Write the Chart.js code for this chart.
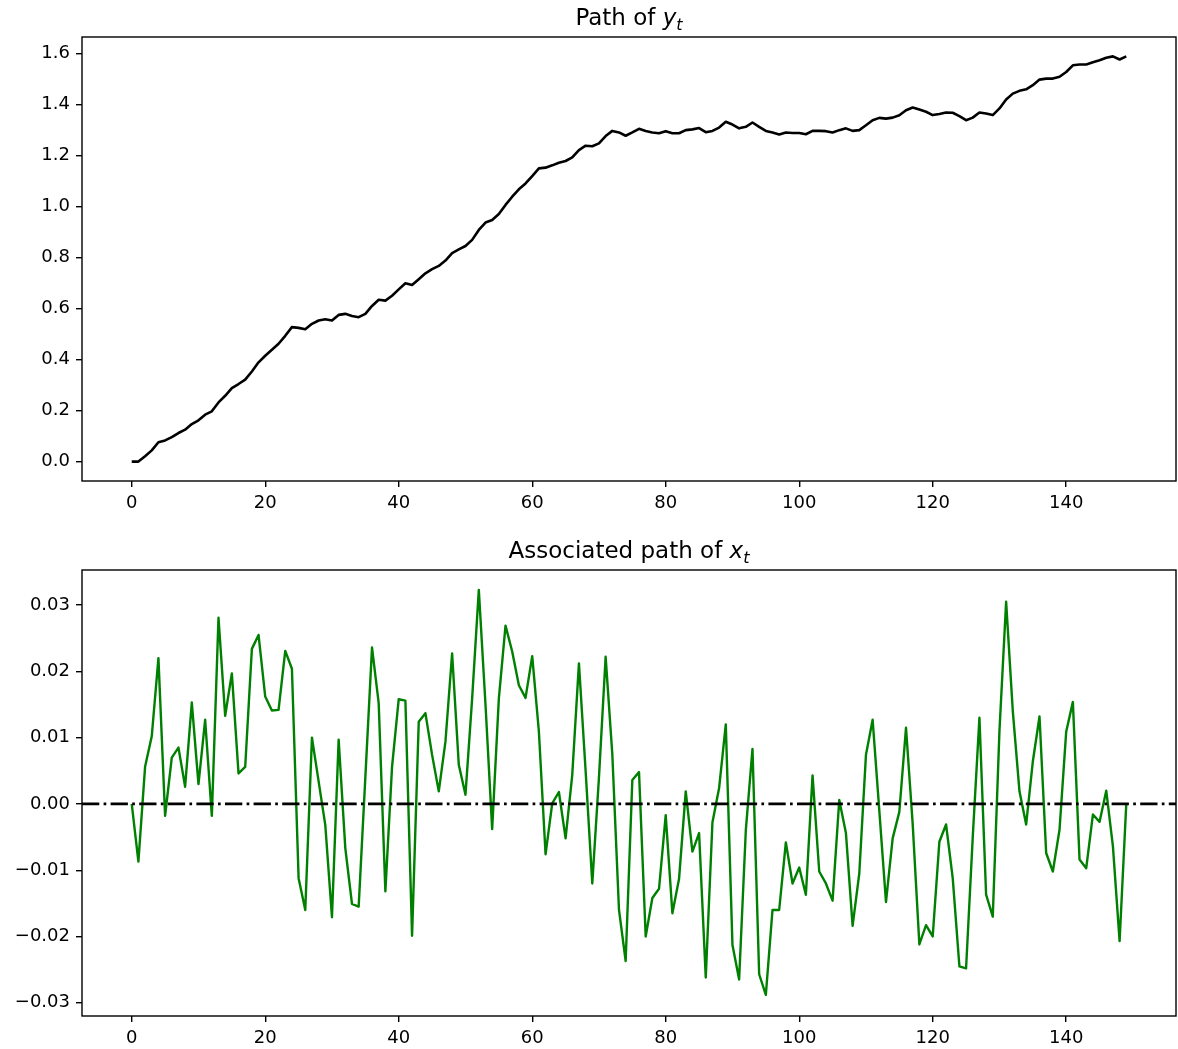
<!DOCTYPE html>
<html>
<head>
<meta charset="utf-8">
<script src="https://cdn.jsdelivr.net/npm/chart.js@4.4.1/dist/chart.umd.min.js"></script>
<style>
  html, body { margin: 0; padding: 0; background: #fff; }
  #wrap { position: relative; width: 1178px; height: 1049px; background: #fff; }
  canvas { position: absolute; left: 0; }
</style>
</head>
<body>
<div id="wrap">
  <canvas id="c1" width="1178" height="525" style="top:0px"></canvas>
  <canvas id="c2" width="1178" height="524" style="top:525px"></canvas>
</div>
<script>
// ---------------- data ----------------
const yPath = [
  0.000, 0.000, 0.021, 0.044, 0.076, 0.083, 0.096, 0.112, 0.125, 0.147,
  0.162, 0.184, 0.197, 0.232, 0.258, 0.288, 0.304, 0.321, 0.353, 0.389,
  0.415, 0.438, 0.462, 0.493, 0.527, 0.524, 0.519, 0.540, 0.553, 0.558,
  0.553, 0.575, 0.579, 0.571, 0.566, 0.579, 0.610, 0.634, 0.631, 0.650,
  0.675, 0.699, 0.692, 0.715, 0.738, 0.754, 0.767, 0.788, 0.817, 0.832,
  0.845, 0.869, 0.908, 0.937, 0.947, 0.970, 1.006, 1.038, 1.067, 1.090,
  1.119, 1.149, 1.152, 1.161, 1.171, 1.178, 1.192, 1.221, 1.238, 1.236,
  1.247, 1.276, 1.296, 1.290, 1.277, 1.290, 1.304, 1.296, 1.290, 1.287,
  1.295, 1.287, 1.287, 1.299, 1.302, 1.307, 1.291, 1.296, 1.309, 1.332,
  1.321, 1.306, 1.312, 1.329, 1.312, 1.296, 1.290, 1.282, 1.290, 1.288,
  1.288, 1.283, 1.296, 1.296, 1.295, 1.290, 1.299, 1.306, 1.296, 1.299,
  1.318, 1.338, 1.347, 1.344, 1.348, 1.357, 1.377, 1.388, 1.380, 1.371,
  1.358, 1.362, 1.368, 1.367, 1.354, 1.338, 1.348, 1.368, 1.364, 1.358,
  1.384, 1.419, 1.442, 1.453, 1.459, 1.475, 1.497, 1.501, 1.501, 1.508,
  1.527, 1.553, 1.556, 1.556, 1.565, 1.573, 1.583, 1.588, 1.576, 1.588
];

const xPath = [
  0.0000, -0.0087, 0.0056, 0.0102, 0.0220, -0.0018, 0.0070, 0.0085, 0.0026, 0.0153,
  0.0030, 0.0127, -0.0018, 0.0281, 0.0133, 0.0197, 0.0046, 0.0056, 0.0234, 0.0255,
  0.0162, 0.0141, 0.0142, 0.0231, 0.0204, -0.0112, -0.0160, 0.0100, 0.0034, -0.0032,
  -0.0171, 0.0097, -0.0067, -0.0151, -0.0155, 0.0040, 0.0236, 0.0152, -0.0132, 0.0056,
  0.0158, 0.0156, -0.0199, 0.0124, 0.0137, 0.0074, 0.0019, 0.0094, 0.0227, 0.0059,
  0.0014, 0.0159, 0.0323, 0.0150, -0.0038, 0.0159, 0.0269, 0.0230, 0.0179, 0.0160,
  0.0223, 0.0109, -0.0076, 0.0001, 0.0018, -0.0052, 0.0044, 0.0212, 0.0050, -0.0120,
  0.0040, 0.0222, 0.0075, -0.0160, -0.0237, 0.0036, 0.0048, -0.0200, -0.0142, -0.0128,
  -0.0017, -0.0165, -0.0113, 0.0019, -0.0072, -0.0044, -0.0262, -0.0028, 0.0024, 0.0120,
  -0.0213, -0.0265, -0.0040, 0.0083, -0.0257, -0.0288, -0.0160, -0.0160, -0.0058, -0.0120,
  -0.0096, -0.0137, 0.0043, -0.0102, -0.0120, -0.0146, 0.0006, -0.0044, -0.0184, -0.0105,
  0.0074, 0.0127, -0.0010, -0.0148, -0.0052, -0.0012, 0.0115, -0.0030, -0.0212, -0.0183,
  -0.0200, -0.0057, -0.0031, -0.0112, -0.0245, -0.0248, -0.0050, 0.0130, -0.0137, -0.0170,
  0.0110, 0.0305, 0.0140, 0.0019, -0.0031, 0.0064, 0.0132, -0.0074, -0.0102, -0.0039,
  0.0109, 0.0154, -0.0084, -0.0097, -0.0016, -0.0027, 0.0020, -0.0064, -0.0207, 0.0000
];

const steps = yPath.map((_, i) => i);

const xTicks = [0, 20, 40, 60, 80, 100, 120, 140];
const xTickLabels = ['0', '20', '40', '60', '80', '100', '120', '140'];

const topYTicks = [0.0, 0.2, 0.4, 0.6, 0.8, 1.0, 1.2, 1.4, 1.6];
const topYTickLabels = ['0.0', '0.2', '0.4', '0.6', '0.8', '1.0', '1.2', '1.4', '1.6'];

const botYTicks = [-0.03, -0.02, -0.01, 0.00, 0.01, 0.02, 0.03];
const botYTickLabels = ['\u22120.03', '\u22120.02', '\u22120.01', '0.00', '0.01', '0.02', '0.03'];

const zeroLevel = 0;

// ---------------- style ----------------
const FONT = 'DejaVu Sans';
const TICK_PX = 18;
const TITLE_PX = 23;

function titleParts(prefix, sym) {
  return [
    { text: prefix, font: `${TITLE_PX}px "${FONT}"`, dy: 0 },
    { text: sym, font: `italic ${TITLE_PX}px "${FONT}"`, dy: 0 },
    { text: 't', font: `italic ${Math.round(TITLE_PX * 0.7)}px "${FONT}"`, dy: 5 }
  ];
}

function drawTitle(ctx, parts, cx, baseline) {
  ctx.save();
  ctx.fillStyle = '#000';
  ctx.textBaseline = 'alphabetic';
  ctx.textAlign = 'left';
  let total = 0;
  const widths = parts.map(p => { ctx.font = p.font; const w = ctx.measureText(p.text).width; total += w; return w; });
  let x = cx - total / 2;
  parts.forEach((p, i) => {
    ctx.font = p.font;
    ctx.fillText(p.text, x, baseline + p.dy);
    x += widths[i];
  });
  ctx.restore();
}

const framePlugin = {
  id: 'frame',
  afterDatasetsDraw(chart, args, opts) {
    const ctx = chart.ctx;
    const a = chart.chartArea;
    if (opts.zeroLine) {
      const y = chart.scales.y.getPixelForValue(zeroLevel);
      ctx.save();
      ctx.beginPath();
      ctx.rect(a.left, a.top, a.right - a.left, a.bottom - a.top);
      ctx.clip();
      ctx.strokeStyle = '#000';
      ctx.lineWidth = 2.7;
      ctx.setLineDash([17.3, 4.3, 2.7, 4.3]);
      ctx.beginPath();
      ctx.moveTo(a.left, y);
      ctx.lineTo(a.right, y);
      ctx.stroke();
      ctx.restore();
    }
  },
  afterDraw(chart, args, opts) {
    const ctx = chart.ctx;
    const a = chart.chartArea;
    ctx.save();
    ctx.strokeStyle = '#000';
    ctx.lineWidth = 1.4;
    ctx.strokeRect(a.left, a.top, a.right - a.left, a.bottom - a.top);
    ctx.restore();
    drawTitle(ctx, opts.title, (a.left + a.right) / 2, a.top - opts.titleGap);
  }
};

function makeChart(id, values, color, lw, yMin, yMax, yTicks, yLabels, pad, xAxisH, title, zeroLine) {
  const ctx = document.getElementById(id);
  return new Chart(ctx, {
    type: 'line',
    data: {
      datasets: [{
        data: values.map((v, i) => ({ x: steps[i], y: v })),
        borderColor: color,
        borderWidth: lw,
        pointRadius: 0,
        tension: 0,
        fill: false,
        borderJoinStyle: 'round',
        borderCapStyle: 'butt'
      }]
    },
    options: {
      responsive: false,
      animation: false,
      devicePixelRatio: 1,
      layout: { padding: pad },
      plugins: {
        legend: { display: false },
        tooltip: { enabled: false },
        frame: { title: title, titleGap: 12, zeroLine: zeroLine }
      },
      scales: {
        x: {
          type: 'linear',
          min: -7.45,
          max: 156.45,
          afterBuildTicks: s => { s.ticks = xTicks.map(v => ({ value: v })); },
          afterFit: s => { s.height = xAxisH; },
          ticks: {
            color: '#000',
            font: { family: FONT, size: TICK_PX },
            padding: 6,
            maxRotation: 0,
            autoSkip: false,
            callback: v => { const k = xTicks.indexOf(v); return k >= 0 ? xTickLabels[k] : ''; }
          },
          grid: { display: true, drawOnChartArea: false, drawTicks: true, tickLength: 6, color: '#000', lineWidth: 1.4 },
          border: { display: false }
        },
        y: {
          type: 'linear',
          min: yMin,
          max: yMax,
          afterBuildTicks: s => { s.ticks = yTicks.map(v => ({ value: v })); },
          afterFit: s => { s.width = 82; },
          ticks: {
            color: '#000',
            font: { family: FONT, size: TICK_PX },
            padding: 6,
            autoSkip: false,
            callback: v => {
              let k = -1;
              yTicks.forEach((t, j) => { if (Math.abs(t - v) < 1e-9) k = j; });
              return k >= 0 ? yLabels[k] : '';
            }
          },
          grid: { display: true, drawOnChartArea: false, drawTicks: true, tickLength: 6, color: '#000', lineWidth: 1.4 },
          border: { display: false }
        }
      }
    },
    plugins: [framePlugin]
  });
}

makeChart('c1', yPath, '#000000', 2.6, -0.076, 1.664, topYTicks, topYTickLabels,
  { top: 37, right: 2, left: 0, bottom: 0 }, 44, titleParts('Path of ', 'y'), false);

makeChart('c2', xPath, '#008000', 2.4, -0.0320, 0.0353, botYTicks, botYTickLabels,
  { top: 45, right: 2, left: 0, bottom: 0 }, 33, titleParts('Associated path of ', 'x'), true);
</script>
</body>
</html>
